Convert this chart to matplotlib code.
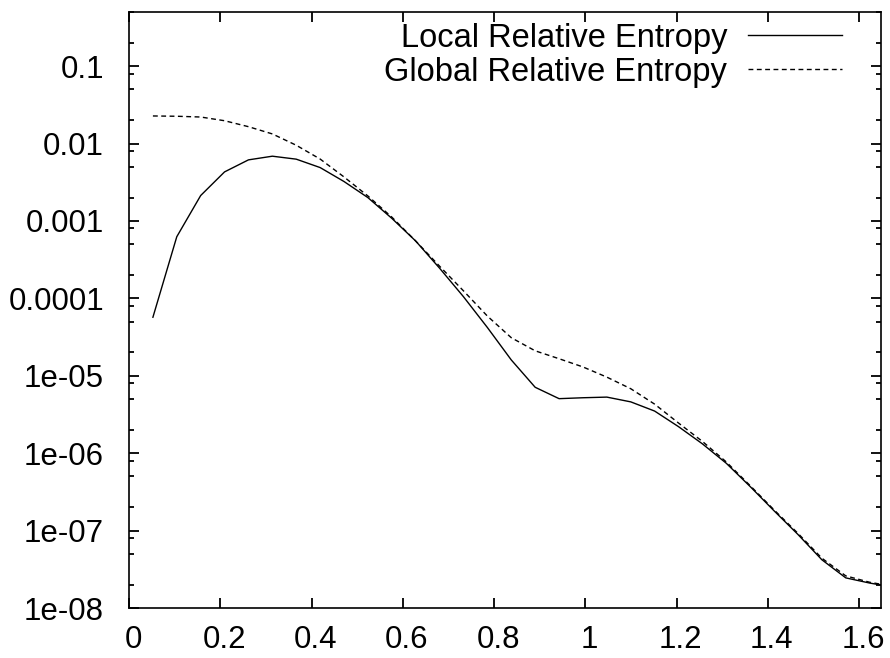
import numpy as np
import matplotlib
matplotlib.use('Agg')
import matplotlib.pyplot as plt
import matplotlib.transforms as mtransforms
from matplotlib.ticker import LogLocator, NullFormatter

plt.rcParams['font.family'] = ['Liberation Sans', 'DejaVu Sans']

# sample positions (multiples of pi/60)
x = [0.0524, 0.1047, 0.1571, 0.2094, 0.2618, 0.3142, 0.3665, 0.4189,
     0.4712, 0.5236, 0.5760, 0.6283, 0.6807, 0.7330, 0.7854, 0.8378,
     0.8901, 0.9425, 0.9948, 1.0472, 1.0996, 1.1519, 1.2043, 1.2566,
     1.3090, 1.3614, 1.4137, 1.4661, 1.5184, 1.5708, 1.6232, 1.6755]

local_re = [5.7e-5, 6.25e-4, 2.13e-3, 4.3e-3, 6.15e-3, 6.86e-3, 6.28e-3, 4.89e-3,
            3.23e-3, 2.0e-3, 1.08e-3, 5.5e-4, 2.45e-4, 1.05e-4, 4.2e-5, 1.6e-5,
            7.1e-6, 5.06e-6, 5.2e-6, 5.3e-6, 4.6e-6, 3.5e-6, 2.2e-6, 1.32e-6,
            7.4e-7, 3.7e-7, 1.8e-7, 8.9e-8, 4.2e-8, 2.45e-8, 2.1e-8, 1.86e-8]

global_re = [2.27e-2, 2.25e-2, 2.2e-2, 1.97e-2, 1.65e-2, 1.33e-2, 9.5e-3, 6.3e-3,
             3.7e-3, 2.1e-3, 1.12e-3, 5.5e-4, 2.6e-4, 1.25e-4, 5.9e-5, 3.1e-5,
             2.1e-5, 1.66e-5, 1.3e-5, 9.6e-6, 6.8e-6, 4.3e-6, 2.45e-6, 1.42e-6,
             7.7e-7, 3.8e-7, 1.85e-7, 9.2e-8, 4.4e-8, 2.6e-8, 2.15e-8, 1.9e-8]

xticks = [0, 0.2, 0.4, 0.6, 0.8, 1.0, 1.2, 1.4, 1.6]
xticklabels = ['0', '0.2', '0.4', '0.6', '0.8', '1', '1.2', '1.4', '1.6']
yticks = [1e-8, 1e-7, 1e-6, 1e-5, 1e-4, 1e-3, 1e-2, 1e-1]
yticklabels = ['1e-08', '1e-07', '1e-06', '1e-05', '0.0001', '0.001', '0.01', '0.1']

fig = plt.figure(figsize=(8.9, 6.58), dpi=100)
ax = fig.add_axes([129/890, 50/658, 752/890, 596/658])

ax.plot(x, local_re, color='black', lw=1.0, label='Local Relative Entropy')
ax.plot(x, global_re, color='black', lw=1.0, dashes=(3.5, 2.5),
        label='Global Relative Entropy')

ax.set_yscale('log')
ax.set_xlim(0, 1.648)
ax.set_ylim(1e-8, 0.5)

ax.set_xticks(xticks)
ax.set_xticklabels(xticklabels)
ax.set_yticks(yticks)
ax.set_yticklabels(yticklabels)
ax.yaxis.set_minor_locator(LogLocator(base=10, subs=[2, 5, 8], numticks=20))
ax.yaxis.set_minor_formatter(NullFormatter())

ax.tick_params(which='both', direction='in', top=True, right=True,
               labelsize=22.5, width=1.3)
ax.tick_params(which='major', length=7.5)
ax.tick_params(which='minor', length=3.8)
ax.tick_params(axis='x', pad=12.5)
ax.tick_params(axis='y', pad=18)
for s in ax.spines.values():
    s.set_linewidth(1.2)

# gnuplot puts the x labels a few pixels right of the ticks
shift = mtransforms.ScaledTranslation(4/100, 0, fig.dpi_scale_trans)
for lab in ax.get_xticklabels():
    lab.set_transform(lab.get_transform() + shift)

ax.legend(loc='upper right', bbox_to_anchor=(0.957, 0.9932), frameon=False,
          markerfirst=False, fontsize=23.5, handlelength=2.88, handletextpad=0.64,
          labelspacing=0.1, borderpad=0.2, borderaxespad=0)

fig.savefig('out.png', dpi=100)
